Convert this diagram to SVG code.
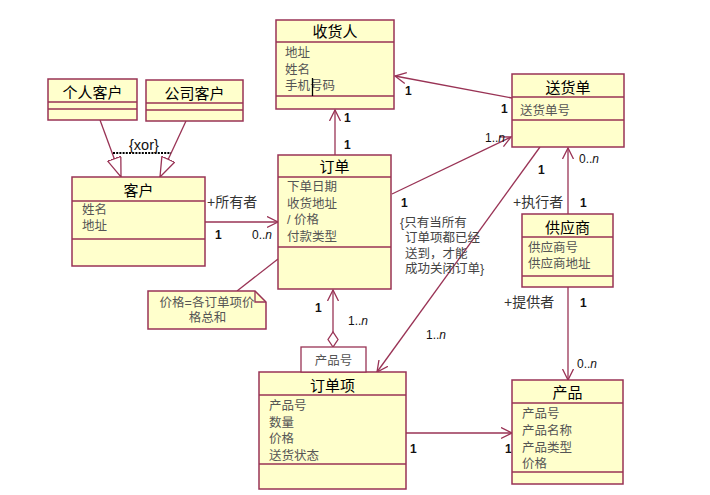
<svg xmlns="http://www.w3.org/2000/svg" width="710" height="495" viewBox="0 0 710 495">
<defs>
<style>
.box{fill:#FFFFCC;stroke:#993355;stroke-width:1.5}
.dv{stroke:#993355;stroke-width:1.5}
.ln{stroke:#993355;stroke-width:1.3;fill:none}
.t{font-family:"Liberation Sans","Noto Sans CJK SC",sans-serif;font-size:15px;fill:#000;text-anchor:middle}
.a{font-family:"Liberation Sans","Noto Sans CJK SC",sans-serif;font-size:12.5px;fill:#555}
.m{font-family:"Liberation Sans",Arial,sans-serif;font-size:12px;fill:#111}
.b{font-weight:bold}
.r{font-family:"Liberation Sans","Noto Sans CJK SC",sans-serif;font-size:14px;fill:#333}
.c{font-family:"Liberation Sans","Noto Sans CJK SC",sans-serif;font-size:12.5px;fill:#444}
</style>
<marker id="arr" markerWidth="13" markerHeight="13" refX="11" refY="6" orient="auto" markerUnits="userSpaceOnUse"><path d="M0,0.5 L11,6 L0,11.5" fill="none" stroke="#993355" stroke-width="1.3"/></marker>
<marker id="tri" markerWidth="22" markerHeight="16" refX="20" refY="7.5" orient="auto" markerUnits="userSpaceOnUse"><path d="M0.5,0.5 L20,7.5 L0.5,14.5 Z" fill="#fff" stroke="#993355" stroke-width="1.3"/></marker>
</defs>
<rect width="710" height="495" fill="#fff"/>

<g id="connectors">
<path class="ln" d="M512,98 L395,76" marker-end="url(#arr)"/>
<path class="ln" d="M335,155 L335,110" marker-end="url(#arr)"/>
<path class="ln" d="M100,120 L121,177" marker-end="url(#tri)"/>
<path class="ln" d="M186,121 L160,177" marker-end="url(#tri)"/>
<path d="M113,153 L171,153" stroke="#000" stroke-width="2" stroke-dasharray="2,1.2" fill="none"/>
<path class="ln" d="M205,222 L278,222" marker-end="url(#arr)"/>
<path class="ln" d="M392,194 L511,137" marker-end="url(#arr)"/>
<path class="ln" d="M540,147 L377,372" marker-end="url(#arr)"/>
<path class="ln" d="M568,214 L568,148" marker-end="url(#arr)"/>
<path class="ln" d="M568,287 L568,380" marker-end="url(#arr)"/>
<path class="ln" d="M406,433 L512,433" marker-end="url(#arr)"/>
<path class="ln" d="M333,332 L333,290" marker-end="url(#arr)"/>
<path class="ln" d="M333,347 L328,339.5 L333,332 L338,339.5 Z" fill="#fff"/>
<path class="ln" d="M237,291 L278,259"/>
<text class="m" x="129" y="150" style="font-size:14.5px">{xor}</text>
<text class="m b" x="405" y="95">1</text>
<text class="m b" x="501" y="113">1</text>
<text class="m b" x="344" y="122">1</text>
<text class="m b" x="344" y="149">1</text>
<text class="r" x="207" y="207">+所有者</text>
<text class="m b" x="215" y="239">1</text>
<text class="m" x="252" y="239">0..<tspan font-style="italic">n</tspan></text>
<text class="m b" x="401" y="207">1</text>
<text class="m" x="485" y="142">1..<tspan font-style="italic">n</tspan></text>
<text class="m" x="579" y="163">0..<tspan font-style="italic">n</tspan></text>
<text class="m b" x="538" y="174">1</text>
<text class="r" x="513" y="207">+执行者</text>
<text class="m b" x="580" y="207">1</text>
<text class="r" x="504" y="307">+提供者</text>
<text class="m b" x="580" y="307">1</text>
<text class="m" x="577" y="368">0..<tspan font-style="italic">n</tspan></text>
<text class="m b" x="315" y="312">1</text>
<text class="m" x="348" y="325">1..<tspan font-style="italic">n</tspan></text>
<text class="m" x="426" y="339">1..<tspan font-style="italic">n</tspan></text>
<text class="m b" x="410" y="453">1</text>
<text class="m b" x="505" y="453">1</text>
<text class="c" x="400" y="227">{只有当所有</text>
<text class="c" x="405" y="242">订单项都已经</text>
<text class="c" x="405" y="258">送到，才能</text>
<text class="c" x="405" y="273">成功关闭订单}</text>
</g>

<g id="shouhuoren">
<rect class="box" x="276" y="20" width="118" height="89"/>
<line class="dv" x1="276" y1="42" x2="394" y2="42"/>
<line class="dv" x1="276" y1="96" x2="394" y2="96"/>
<text class="t" x="335" y="37">收货人</text>
<text class="a" x="285" y="57">地址</text>
<text class="a" x="285" y="74">姓名</text>
<text class="a" x="285" y="90">手机号码</text>
<line x1="312.5" y1="78" x2="312.5" y2="96" stroke="#000" stroke-width="1.3"/>
</g>

<g id="gerenkehu">
<rect class="box" x="48" y="79" width="89" height="41"/>
<line class="dv" x1="48" y1="102" x2="137" y2="102"/>
<line class="dv" x1="48" y1="109" x2="137" y2="109"/>
<text class="t" x="92.5" y="98">个人客户</text>
</g>

<g id="gongsikehu">
<rect class="box" x="146" y="80" width="97" height="41"/>
<line class="dv" x1="146" y1="103" x2="243" y2="103"/>
<line class="dv" x1="146" y1="110" x2="243" y2="110"/>
<text class="t" x="194.5" y="99">公司客户</text>
</g>

<g id="kehu">
<rect class="box" x="72" y="177" width="133" height="89"/>
<line class="dv" x1="72" y1="201" x2="205" y2="201"/>
<line class="dv" x1="72" y1="239" x2="205" y2="239"/>
<text class="t" x="138.5" y="196">客户</text>
<text class="a" x="82" y="214">姓名</text>
<text class="a" x="82" y="230">地址</text>
</g>

<g id="dingdan">
<rect class="box" x="278" y="155" width="113" height="134"/>
<line class="dv" x1="278" y1="177" x2="391" y2="177"/>
<line class="dv" x1="278" y1="247" x2="391" y2="247"/>
<text class="t" x="334.5" y="172">订单</text>
<text class="a" x="287" y="191">下单日期</text>
<text class="a" x="287" y="208">收货地址</text>
<text class="a" x="287" y="224">/ 价格</text>
<text class="a" x="287" y="241">付款类型</text>
</g>

<g id="songhuodan">
<rect class="box" x="512" y="74" width="112" height="73"/>
<line class="dv" x1="512" y1="97" x2="624" y2="97"/>
<line class="dv" x1="512" y1="120" x2="624" y2="120"/>
<text class="t" x="568" y="93">送货单</text>
<text class="a" x="520" y="115">送货单号</text>
</g>

<g id="gongyingshang">
<rect class="box" x="522" y="214" width="91" height="73"/>
<line class="dv" x1="522" y1="237" x2="613" y2="237"/>
<line class="dv" x1="522" y1="276" x2="613" y2="276"/>
<text class="t" x="567.5" y="233">供应商</text>
<text class="a" x="528" y="252">供应商号</text>
<text class="a" x="528" y="268">供应商地址</text>
</g>

<g id="chanpin">
<rect class="box" x="512" y="380" width="111" height="104"/>
<line class="dv" x1="512" y1="403" x2="623" y2="403"/>
<line class="dv" x1="512" y1="472" x2="623" y2="472"/>
<text class="t" x="567.5" y="398">产品</text>
<text class="a" x="522" y="418">产品号</text>
<text class="a" x="522" y="435">产品名称</text>
<text class="a" x="522" y="452">产品类型</text>
<text class="a" x="522" y="468">价格</text>
</g>

<g id="dingdanxiang">
<rect class="box" x="259" y="372" width="147" height="117"/>
<line class="dv" x1="259" y1="395" x2="406" y2="395"/>
<line class="dv" x1="259" y1="464" x2="406" y2="464"/>
<text class="t" x="332.5" y="391">订单项</text>
<text class="a" x="269" y="410">产品号</text>
<text class="a" x="269" y="427">数量</text>
<text class="a" x="269" y="443">价格</text>
<text class="a" x="269" y="460">送货状态</text>
</g>

<g id="qualifier">
<rect x="301" y="347" width="65" height="25" fill="#fff" stroke="#993355" stroke-width="1.3"/>
<text class="a" x="333.5" y="365" text-anchor="middle">产品号</text>
</g>

<g id="note">
<path d="M148,291 L255,291 L266,302 L266,329 L148,329 Z" fill="#FFFFCC" stroke="#993355" stroke-width="1.5"/>
<path d="M255,291 L255,302 L266,302" fill="none" stroke="#993355" stroke-width="1.3"/>
<text class="a" x="207" y="307" text-anchor="middle">价格=各订单项价</text>
<text class="a" x="207.5" y="322" text-anchor="middle">格总和</text>
</g>
</svg>
